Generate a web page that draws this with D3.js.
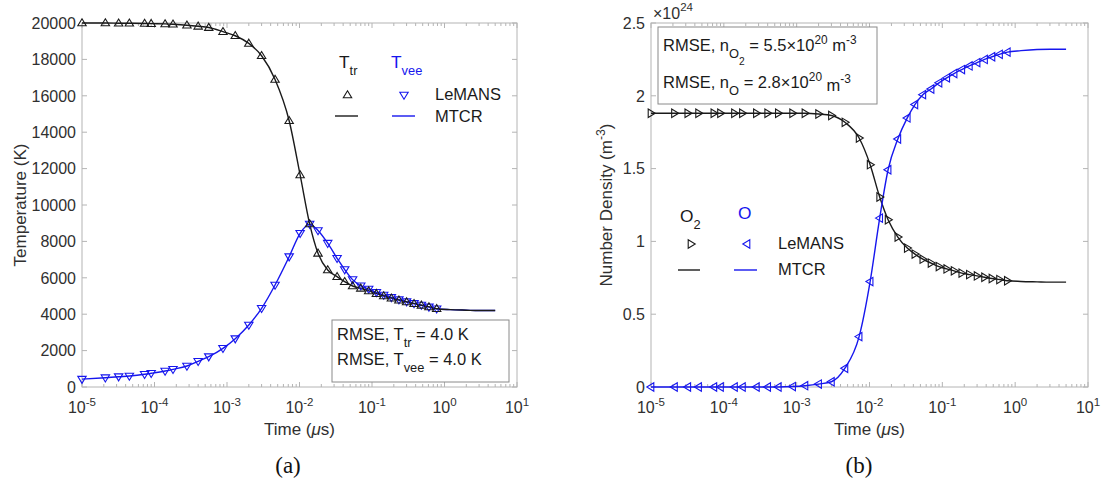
<!DOCTYPE html>
<html>
<head>
<meta charset="utf-8">
<script src="https://cdn.jsdelivr.net/npm/d3@7"></script>
<style>
  body { margin: 0; background: #fff; }
  svg { display: block; }
  text { font-family: "Liberation Sans", Arial, Helvetica, sans-serif; }
</style>
</head>
<body>
<svg id="chart" width="1101" height="489"></svg>
<script>
// ---- sampled output times of the LeMANS solution (µs) ----
const sampleTime = [1e-5, 2.1e-5, 3.2e-5, 4.5e-5, 7.3e-5, 9e-5, 1.4e-4, 1.8e-4, 2.8e-4, 4.0e-4,
  5.6e-4, 8.8e-4, 1.3e-3, 2e-3, 3e-3, 4.6e-3, 7.2e-3, 1.02e-2, 1.38e-2, 1.8e-2,
  2.45e-2, 3.3e-2, 4.2e-2, 5.4e-2, 7e-2, 9e-2, 0.115, 0.145, 0.185, 0.235,
  0.3, 0.38, 0.48, 0.61, 0.78];

// ---- (a) temperatures, K ----
const ttrLeMANS = [20000, 20000, 19990, 19985, 19975, 19965, 19950, 19930, 19880, 19820,
  19750, 19525, 19300, 18880, 18200, 16900, 14630, 11650, 8960, 7347,
  6429, 6061, 5786, 5550, 5424, 5280, 5130, 5000, 4880, 4770,
  4670, 4580, 4490, 4400, 4300];
const tveeLeMANS = [430, 510, 566, 604, 697, 752, 880, 970, 1154, 1410,
  1666, 2125, 2655, 3407, 4323, 5605, 7160, 8444, 8950, 8600,
  7900, 7072, 6450, 5900, 5560, 5380, 5200, 5050, 4920, 4800,
  4690, 4590, 4500, 4400, 4300];

// MTCR solution runs a little further in time
const mtcrTime = sampleTime.concat([1.2, 2, 3, 5]);
const ttrMTCR = ttrLeMANS.concat([4250, 4220, 4200, 4200]);
const tveeMTCR = tveeLeMANS.concat([4250, 4220, 4200, 4200]);

// ---- (b) number densities, 1e24 m^-3 ----
const o2LeMANS = [1.88, 1.88, 1.88, 1.88, 1.88, 1.88, 1.88, 1.88, 1.88, 1.88,
  1.88, 1.88, 1.88, 1.875, 1.865, 1.818, 1.71, 1.527, 1.305, 1.149,
  1.03, 0.954, 0.913, 0.878, 0.851, 0.827, 0.811, 0.798, 0.782, 0.772,
  0.763, 0.754, 0.745, 0.738, 0.73];
const oLeMANS = [0, 0, 0, 0, 0, 0, 0, 0, 0, 0,
  0, 0.003, 0.009, 0.02, 0.036, 0.129, 0.346, 0.724, 1.16, 1.492,
  1.703, 1.848, 1.94, 2.008, 2.047, 2.089, 2.123, 2.153, 2.18, 2.205,
  2.228, 2.25, 2.268, 2.285, 2.30];
const o2MTCR = o2LeMANS.concat([0.725, 0.722, 0.72, 0.72]);
const oMTCR = oLeMANS.concat([2.31, 2.318, 2.32, 2.32]);

// ---- axis ticks ----
const timeTickExps = [-5, -4, -3, -2, -1, 0, 1];
const tempTicks = [0, 2000, 4000, 6000, 8000, 10000, 12000, 14000, 16000, 18000, 20000];
const densTicks = [0, 0.5, 1, 1.5, 2, 2.5];
const densTickLabels = ["0", "0.5", "1", "1.5", "2", "2.5"];

// ---- styling ----
const BLACK = "#1a1a1a";
const BLUE = "#1616ee";
const AXIS = "#b4b4b4";
const LABEL = "#303030";
const FS = 16;      // tick labels
const TITLE = 17;   // axis titles
const LEG = 16.5;   // legend / annotation text

const svg = d3.select("#chart");

// text with sub/superscripts: parts = [[string, dyShift, sizeScale, italic]]
function rich(g, x, y, parts, opts = {}) {
  const size = opts.size || FS;
  const t = g.append("text").attr("x", x).attr("y", y)
    .attr("font-size", size)
    .attr("fill", opts.color || LABEL)
    .attr("text-anchor", opts.anchor || "start");
  if (opts.transform) t.attr("transform", opts.transform);
  let prev = 0;
  parts.forEach(p => {
    const shift = p[1] || 0;
    const ts = t.append("tspan").text(p[0]).attr("dy", shift - prev)
      .attr("font-size", size * (p[2] || 1));
    if (p[3]) ts.attr("font-style", "italic");
    prev = shift;
  });
  return t;
}

// open triangle marker, dir: up/down/left/right
function triPath(dir) {
  const w = 4.2, h = 7;
  let pts = [[0, -h * 0.6], [w, h * 0.4], [-w, h * 0.4]];
  const rot = { up: 0, down: 180, right: 90, left: -90 }[dir];
  const a = rot * Math.PI / 180;
  pts = pts.map(([px, py]) => [px * Math.cos(a) - py * Math.sin(a), px * Math.sin(a) + py * Math.cos(a)]);
  return "M" + pts.map(p => p[0].toFixed(2) + "," + p[1].toFixed(2)).join("L") + "Z";
}

function drawFrame(g, x, x0, x1, top, bottom) {
  g.append("rect").attr("x", x0).attr("y", top).attr("width", x1 - x0).attr("height", bottom - top)
    .attr("fill", "none").attr("stroke", AXIS).attr("stroke-width", 1);
  // log ticks, major and minor, bottom and top, pointing inward
  const ticks = [];
  timeTickExps.forEach(e => {
    ticks.push({ v: Math.pow(10, e), major: true });
    if (e < 1) for (let k = 2; k <= 9; k++) ticks.push({ v: k * Math.pow(10, e), major: false });
  });
  ticks.forEach(tk => {
    const px = x(tk.v);
    const len = tk.major ? 5 : 3;
    g.append("line").attr("x1", px).attr("x2", px).attr("y1", bottom).attr("y2", bottom - len)
      .attr("stroke", AXIS);
    g.append("line").attr("x1", px).attr("x2", px).attr("y1", top).attr("y2", top + len)
      .attr("stroke", AXIS);
  });
  timeTickExps.forEach(e => {
    rich(g, x(Math.pow(10, e)), 413, [["10", 0, 1], [String(e), -7, 0.72]],
      { anchor: "middle", size: FS });
  });
  rich(g, (x0 + x1) / 2, 435, [["Time (", 0, 1], ["\u03bc", 0, 1, true], ["s)", 0, 1]],
    { anchor: "middle", size: TITLE });
}

function yTicks(g, y, x0, x1, values, labels) {
  values.forEach((v, i) => {
    const py = y(v);
    g.append("line").attr("x1", x0).attr("x2", x0 + 5).attr("y1", py).attr("y2", py).attr("stroke", AXIS);
    g.append("line").attr("x1", x1).attr("x2", x1 - 5).attr("y1", py).attr("y2", py).attr("stroke", AXIS);
    g.append("text").attr("x", x0 - 6).attr("y", py).attr("dy", "0.36em")
      .attr("text-anchor", "end").attr("font-size", FS).attr("fill", LABEL).text(labels[i]);
  });
}

function series(g, x, y, times, vals, color) {
  const line = d3.line().x(d => x(d[0])).y(d => y(d[1])).curve(d3.curveMonotoneX);
  g.append("path").datum(times.map((t, i) => [t, vals[i]]))
    .attr("d", line).attr("fill", "none").attr("stroke", color).attr("stroke-width", 1.4);
}

function markers(g, x, y, times, vals, color, dir) {
  g.selectAll(null).data(times.map((t, i) => [t, vals[i]])).join("path")
    .attr("d", triPath(dir))
    .attr("transform", d => `translate(${x(d[0])},${y(d[1])})`)
    .attr("fill", "none").attr("stroke", color).attr("stroke-width", 1.1);
}

function legendMark(g, dir, cx, cy, color) {
  g.append("path").attr("d", triPath(dir)).attr("transform", `translate(${cx},${cy})`)
    .attr("fill", "none").attr("stroke", color).attr("stroke-width", 1.1);
}

function legendLine(g, xa, xb, yy, color) {
  g.append("line").attr("x1", xa).attr("x2", xb).attr("y1", yy).attr("y2", yy)
    .attr("stroke", color).attr("stroke-width", 1.4);
}

// =================== (a) Temperature ===================
{
  const x0 = 82, x1 = 517, top = 23, bottom = 387;
  const g = svg.append("g");
  const x = d3.scaleLog().domain([1e-5, 10]).range([x0, x1]);
  const y = d3.scaleLinear().domain([0, 20000]).range([bottom, top]);

  drawFrame(g, x, x0, x1, top, bottom);
  yTicks(g, y, x0, x1, tempTicks, tempTicks.map(String));
  rich(g, 0, 0, [["Temperature (K)", 0, 1]],
    { anchor: "middle", size: TITLE, transform: `translate(26,${(top + bottom) / 2}) rotate(-90)` });

  series(g, x, y, mtcrTime, tveeMTCR, BLUE);
  series(g, x, y, mtcrTime, ttrMTCR, BLACK);
  markers(g, x, y, sampleTime, tveeLeMANS, BLUE, "down");
  markers(g, x, y, sampleTime, ttrLeMANS, BLACK, "up");

  // legend
  rich(g, 339, 68, [["T", 0, 1.05], ["tr", 7, 0.78]], { color: BLACK, size: LEG });
  rich(g, 391, 68, [["T", 0, 1.05], ["vee", 7, 0.78]], { color: BLUE, size: LEG });
  legendMark(g, "up", 347.5, 95, BLACK);
  legendMark(g, "down", 404, 95, BLUE);
  legendLine(g, 335, 358, 116, BLACK);
  legendLine(g, 392, 415, 116, BLUE);
  rich(g, 435, 100, [["LeMANS", 0, 1]], { color: BLACK, size: LEG });
  rich(g, 435, 122, [["MTCR", 0, 1]], { color: BLACK, size: LEG });

  // RMSE box
  g.append("rect").attr("x", 332).attr("y", 320).attr("width", 177).attr("height", 62)
    .attr("fill", "#fff").attr("stroke", "#8a8a8a").attr("stroke-width", 1);
  rich(g, 337, 340, [["RMSE, T", 0, 1], ["tr", 7, 0.78], [" = 4.0 K", 0, 1]], { color: BLACK, size: LEG });
  rich(g, 337, 365, [["RMSE, T", 0, 1], ["vee", 7, 0.78], [" = 4.0 K", 0, 1]], { color: BLACK, size: LEG });

  svg.append("text").attr("x", 288).attr("y", 473).attr("text-anchor", "middle")
    .style("font-family", "'Liberation Serif','DejaVu Serif',serif")
    .attr("font-size", 23).attr("fill", "#111").text("(a)");
}

// =================== (b) Number density ===================
{
  const x0 = 651, x1 = 1088, top = 23, bottom = 387;
  const g = svg.append("g");
  const x = d3.scaleLog().domain([1e-5, 10]).range([x0, x1]);
  const y = d3.scaleLinear().domain([0, 2.5]).range([bottom, top]);

  drawFrame(g, x, x0, x1, top, bottom);
  yTicks(g, y, x0, x1, densTicks, densTickLabels);
  rich(g, 0, 0, [["Number Density (m", 0, 1], ["-3", -7, 0.72], [")", 0, 1]],
    { anchor: "middle", size: TITLE, transform: `translate(612,${(top + bottom) / 2}) rotate(-90)` });
  rich(g, 653, 19, [["\u00d710", 0, 1], ["24", -8, 0.72]], { size: FS });

  series(g, x, y, mtcrTime, o2MTCR, BLACK);
  series(g, x, y, mtcrTime, oMTCR, BLUE);
  markers(g, x, y, sampleTime, o2LeMANS, BLACK, "right");
  markers(g, x, y, sampleTime, oLeMANS, BLUE, "left");

  // legend
  rich(g, 680, 222, [["O", 0, 1.05], ["2", 7, 0.78]], { color: BLACK, size: LEG });
  rich(g, 738, 219, [["O", 0, 1.05]], { color: BLUE, size: LEG });
  legendMark(g, "right", 691, 244, BLACK);
  legendMark(g, "left", 747, 244, BLUE);
  legendLine(g, 678, 700, 270, BLACK);
  legendLine(g, 734, 757, 270, BLUE);
  rich(g, 778, 249, [["LeMANS", 0, 1]], { color: BLACK, size: LEG });
  rich(g, 778, 275, [["MTCR", 0, 1]], { color: BLACK, size: LEG });

  // RMSE box
  g.append("rect").attr("x", 658).attr("y", 27).attr("width", 219).attr("height", 77)
    .attr("fill", "#fff").attr("stroke", "#8a8a8a").attr("stroke-width", 1);
  rich(g, 663, 51, [["RMSE, n", 0, 1], ["O", 7, 0.78], ["2", 14, 0.62],
    [" = 5.5\u00d710", 0, 1], ["20", -7, 0.72], [" m", 0, 1], ["-3", -7, 0.72]], { color: BLACK, size: LEG });
  rich(g, 663, 88, [["RMSE, n", 0, 1], ["O", 7, 0.78],
    [" = 2.8\u00d710", 0, 1], ["20", -7, 0.72], [" m", 3, 1], ["-3", -5, 0.72]], { color: BLACK, size: LEG });

  svg.append("text").attr("x", 859).attr("y", 473).attr("text-anchor", "middle")
    .style("font-family", "'Liberation Serif','DejaVu Serif',serif")
    .attr("font-size", 23).attr("fill", "#111").text("(b)");
}
</script>
</body>
</html>
